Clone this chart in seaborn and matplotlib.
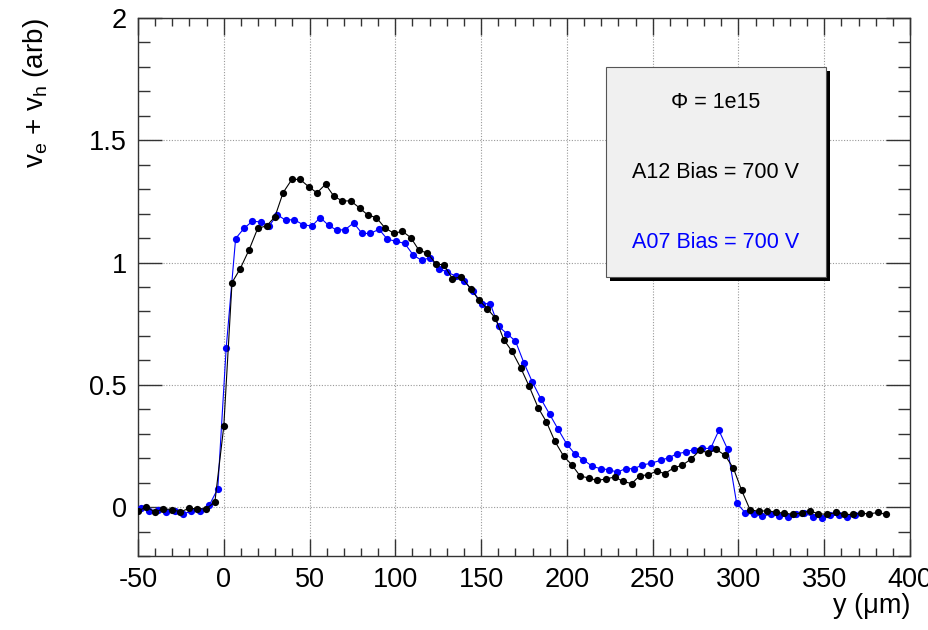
import numpy as np
import pandas as pd
import matplotlib
matplotlib.use("Agg")
import matplotlib.pyplot as plt
from matplotlib.patches import Rectangle
from matplotlib.ticker import MultipleLocator
import seaborn as sns

# A12 (black) series
a12_x = [-50.0, -45.1, -40.1, -35.2, -30.2, -25.3, -20.3, -15.4, -10.4, -5.2,
         0.0, 4.8, 9.6, 14.8, 19.8, 25.0, 29.8, 34.6, 39.7, 44.5,
         49.5, 54.3, 59.3, 64.2, 69.1, 74.0, 79.2, 84.0, 88.9, 93.8,
         99.2, 104.1, 109.0, 113.8, 118.7, 123.5, 128.4, 133.3, 138.5, 143.9,
         148.6, 153.5, 158.3, 163.2, 168.0, 173.1, 178.0, 183.2, 188.1, 193.0,
         198.2, 202.9, 207.7, 212.8, 217.6, 222.7, 227.9, 232.8, 237.7, 242.5,
         247.4, 252.3, 257.1, 262.4, 267.2, 272.3, 277.5, 282.4, 287.0, 292.1,
         297.0, 301.9, 306.7, 312.0, 316.8, 321.9, 326.7, 331.6, 336.9, 341.7,
         346.6, 351.8, 356.7, 361.6, 366.6, 371.5, 376.3, 381.2, 386.1]
a12_y = [-0.016, 0.000, -0.020, -0.007, -0.010, -0.020, -0.005, -0.007, -0.007, 0.020,
         0.330, 0.918, 0.975, 1.053, 1.140, 1.150, 1.187, 1.286, 1.340, 1.340,
         1.310, 1.285, 1.320, 1.271, 1.252, 1.252, 1.223, 1.194, 1.184, 1.143,
         1.119, 1.128, 1.102, 1.050, 1.039, 0.996, 0.989, 0.934, 0.941, 0.893,
         0.848, 0.812, 0.773, 0.685, 0.637, 0.569, 0.494, 0.407, 0.348, 0.269,
         0.207, 0.173, 0.127, 0.119, 0.109, 0.115, 0.123, 0.105, 0.096, 0.128,
         0.132, 0.147, 0.137, 0.161, 0.171, 0.196, 0.232, 0.222, 0.236, 0.212,
         0.160, 0.068, -0.010, -0.018, -0.014, -0.022, -0.024, -0.030, -0.024, -0.016,
         -0.027, -0.030, -0.022, -0.030, -0.030, -0.025, -0.028, -0.022, -0.030]

# A07 (blue) series
a07_x = [-48.2, -43.4, -38.5, -33.6, -28.7, -23.8, -18.9, -14.0, -8.5, -3.5,
         1.4, 6.9, 11.8, 16.7, 21.6, 26.5, 31.2, 36.0, 40.9, 46.1,
         51.3, 56.2, 61.1, 65.9, 70.8, 75.7, 80.6, 85.4, 90.5, 95.4,
         100.5, 105.5, 110.5, 115.4, 120.3, 125.2, 130.2, 135.2, 140.1, 145.2,
         150.3, 155.3, 160.2, 165.1, 170.0, 175.0, 179.9, 184.8, 190.0, 194.9,
         199.8, 204.6, 209.5, 214.7, 219.6, 224.4, 229.3, 234.2, 239.1, 243.9,
         248.9, 254.6, 259.4, 264.3, 269.2, 274.0, 278.9, 283.8, 288.6, 293.7,
         298.9, 304.0, 309.0, 313.9, 318.8, 323.7, 328.6, 333.4, 338.5, 343.4,
         348.7, 353.5, 358.4, 363.3, 368.1]
a07_y = [-0.005, -0.014, -0.012, -0.020, -0.018, -0.027, -0.018, -0.015, 0.007, 0.075,
         0.650, 1.098, 1.140, 1.169, 1.166, 1.150, 1.196, 1.173, 1.176, 1.155,
         1.149, 1.184, 1.152, 1.132, 1.135, 1.162, 1.119, 1.119, 1.136, 1.095,
         1.087, 1.078, 1.030, 1.009, 1.020, 0.975, 0.962, 0.944, 0.925, 0.884,
         0.832, 0.832, 0.739, 0.709, 0.679, 0.589, 0.511, 0.443, 0.379, 0.318,
         0.259, 0.218, 0.194, 0.167, 0.157, 0.153, 0.143, 0.157, 0.157, 0.172,
         0.179, 0.191, 0.202, 0.218, 0.225, 0.235, 0.240, 0.240, 0.314, 0.236,
         0.018, -0.024, -0.030, -0.037, -0.030, -0.037, -0.039, -0.030, -0.025, -0.039,
         -0.043, -0.034, -0.034, -0.041, -0.034]

x_ticks = [-50, 0, 50, 100, 150, 200, 250, 300, 350, 400]
x_tick_labels = ["-50", "0", "50", "100", "150", "200", "250", "300", "350", "400"]
y_ticks = [0, 0.5, 1, 1.5, 2]
y_tick_labels = ["0", "0.5", "1", "1.5", "2"]

legend_lines = ["\u03a6 = 1e15", "A12 Bias = 700 V", "A07 Bias = 700 V"]
legend_colors = ["black", "black", "#0000ff"]

sns.set_style("ticks")
plt.rcParams["font.family"] = ["Liberation Sans", "DejaVu Sans"]
plt.rcParams["mathtext.fontset"] = "custom"
plt.rcParams["mathtext.rm"] = "Liberation Sans"
plt.rcParams["mathtext.it"] = "Liberation Sans:italic"
plt.rcParams["text.color"] = "black"

fig = plt.figure(figsize=(9.29, 6.30), dpi=100)
ax = fig.add_axes([138 / 929, 1 - 556 / 630, 772 / 929, 538 / 630])

df07 = pd.DataFrame({"x": a07_x, "y": a07_y})
df12 = pd.DataFrame({"x": a12_x, "y": a12_y})

sns.lineplot(data=df07, x="x", y="y", ax=ax, color="#0000ff", lw=0.8,
             marker="o", markersize=5.2, markeredgewidth=0, estimator=None,
             sort=False, zorder=3)
sns.lineplot(data=df12, x="x", y="y", ax=ax, color="black", lw=0.8,
             marker="o", markersize=5.2, markeredgewidth=0, estimator=None,
             sort=False, zorder=4)

ax.set_xlim(-50, 400)
ax.set_ylim(-0.2, 2.0)
ax.set_xticks(x_ticks)
ax.set_xticklabels(x_tick_labels)
ax.set_yticks(y_ticks)
ax.set_yticklabels(y_tick_labels)
ax.xaxis.set_minor_locator(MultipleLocator(10))
ax.yaxis.set_minor_locator(MultipleLocator(0.1))

ax.grid(True, which="major", color="#999999", linestyle=(0, (1, 1.5)), lw=0.8)
ax.set_axisbelow(True)

for s in ax.spines.values():
    s.set_visible(True)
    s.set_color("#333333")
    s.set_linewidth(1.0)

ax.tick_params(axis="x", which="major", direction="in", length=12, width=1,
               top=True, bottom=True, labelsize=19.5, pad=8, color="#333333",
               labelcolor="black")
ax.tick_params(axis="x", which="minor", direction="in", length=6, width=1,
               top=True, bottom=True, color="#333333")
ax.tick_params(axis="y", which="major", direction="in", length=17, width=1,
               left=True, right=True, labelsize=19.5, pad=8, color="#333333",
               labelcolor="black")
ax.tick_params(axis="y", which="minor", direction="in", length=8.5, width=1,
               left=True, right=True, color="#333333")

ax.set_xlabel("")
ax.set_ylabel("")
fig.text(910 / 929, 1 - 606 / 630, "y (\u03bcm)", ha="right", va="center", fontsize=19.5)
fig.text(36 / 929, 1 - 18 / 630, r"v$_{\rm e}$ + v$_{\rm h}$ (arb)", rotation=90,
         ha="center", va="top", fontsize=20)

# legend box (ROOT-style pave with shadow)
bx0, bx1 = (606 - 138) / 772, (826 - 138) / 772
by0, by1 = (556 - 277) / 538, (556 - 67) / 538
dx, dy = 4 / 772, 4 / 538
ax.add_patch(Rectangle((bx0 + dx, by0 - dy), bx1 - bx0, by1 - by0, transform=ax.transAxes,
                       facecolor="black", edgecolor="black", lw=0, zorder=6))
ax.add_patch(Rectangle((bx0, by0), bx1 - bx0, by1 - by0, transform=ax.transAxes,
                       facecolor="#f0f0f0", edgecolor="#555555", lw=0.8, zorder=7))
row_y = [(556 - 102) / 538, (556 - 172) / 538, (556 - 242) / 538]
for txt, col, yy in zip(legend_lines, legend_colors, row_y):
    ax.text((716 - 138) / 772, yy, txt, transform=ax.transAxes, ha="center", va="center",
            fontsize=15.5, color=col, zorder=8)

fig.savefig("out.png", dpi=100, facecolor="white")
